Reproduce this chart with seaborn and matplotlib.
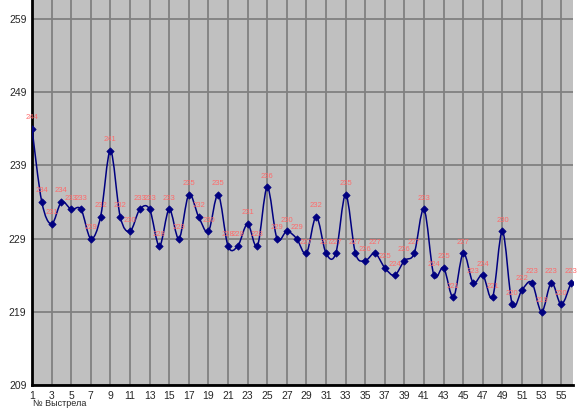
import numpy as np
import pandas as pd
import seaborn as sns
import matplotlib
matplotlib.use("Agg")
import matplotlib.pyplot as plt
from matplotlib.path import Path
from matplotlib.patches import PathPatch

shots = list(range(1, 57))
values = [244, 234, 231, 234, 233, 233, 229, 232, 241, 232,
          230, 233, 233, 228, 233, 229, 235, 232, 230, 235,
          228, 228, 231, 228, 236, 229, 230, 229, 227, 232,
          227, 227, 235, 227, 226, 227, 225, 224, 226, 227,
          233, 224, 225, 221, 227, 223, 224, 221, 230, 220,
          222, 223, 219, 223, 220, 223]
y_ticks = [209, 219, 229, 239, 249, 259]
x_ticks = list(range(1, 57, 2))
x_label = "№ Выстрела"

df = pd.DataFrame({"shot": shots, "value": values})

sns.set_style("white")
plt.rcParams['font.family'] = ['Liberation Sans', 'DejaVu Sans']

fig = plt.figure(figsize=(5.78, 4.12), dpi=100)
ax = fig.add_axes([32 / 578, 27 / 412, 541 / 578, 385 / 412])
ax.set_facecolor("#C0C0C0")

# smooth curve via Catmull-Rom -> cubic Bezier path segments
x = np.array(shots, dtype=float)
y = np.array(values, dtype=float)
verts = [(x[0], y[0])]
codes = [Path.MOVETO]
n = len(x)
for i in range(n - 1):
    p0 = (x[i - 1], y[i - 1]) if i > 0 else (x[i], y[i])
    p1 = (x[i], y[i])
    p2 = (x[i + 1], y[i + 1])
    p3 = (x[i + 2], y[i + 2]) if i + 2 < n else (x[i + 1], y[i + 1])
    t = 1 / 6
    c1 = (p1[0] + (p2[0] - p0[0]) * t, p1[1] + (p2[1] - p0[1]) * t)
    c2 = (p2[0] - (p3[0] - p1[0]) * t, p2[1] - (p3[1] - p1[1]) * t)
    verts += [c1, c2, p2]
    codes += [Path.CURVE4] * 3
patch = PathPatch(Path(verts, codes), facecolor="none", edgecolor="#000080", lw=1.1, zorder=3)
ax.add_patch(patch)

sns.scatterplot(data=df, x="shot", y="value", ax=ax, marker="D", s=14,
                color="#000080", edgecolor="#000080", linewidth=0.5, zorder=4, legend=False)

for xi, yi in zip(shots, values):
    ax.annotate(str(yi), (xi, yi), xytext=(0, 5.5), textcoords="offset points",
                ha="center", va="bottom", fontsize=5.5, color="#FF6A6A", zorder=5)

ax.set_xlim(1, 56.2)
ax.set_ylim(209, 261.6)
ax.set_xticks(x_ticks)
ax.set_yticks(y_ticks)
ax.grid(True, color="#808080", lw=1.3)
ax.set_axisbelow(True)
ax.tick_params(axis="both", labelsize=7.5, length=3, width=1.5, color="black", direction="out", pad=1)
for s in ["top", "right"]:
    ax.spines[s].set_visible(False)
for s in ["left", "bottom"]:
    ax.spines[s].set_color("black")
    ax.spines[s].set_linewidth(2)
ax.set_xlabel("")
ax.set_ylabel("")
fig.text(33 / 578, 1 - 404 / 412, x_label, fontsize=6.5, ha="left", va="center")

fig.savefig("out.png", dpi=100)
